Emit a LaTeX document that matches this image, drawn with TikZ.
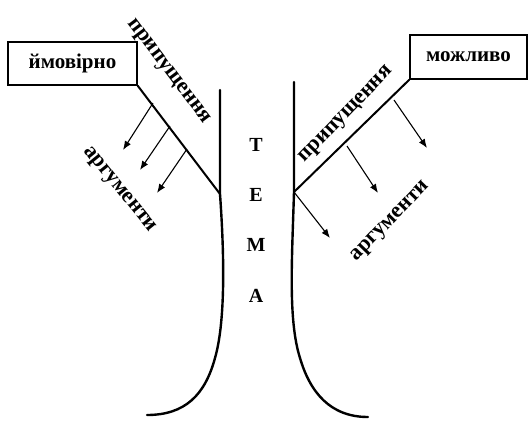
\documentclass[tikz,border=0pt]{standalone}
\usepackage{fontspec}
\setmainfont{Liberation Serif}
\usetikzlibrary{arrows.meta,positioning}

\tikzset{
  stem/.style={line width=2.4pt, line cap=round},
  branch/.style={line width=2pt},
  idea/.style={draw, line width=1.3pt, minimum width=129pt, minimum height=43pt,
    font=\bfseries\fontsize{21}{21}\selectfont},
  twig/.style={line width=1.1pt, -{Latex[length=9pt,width=7pt]}},
  lbl/.style={font=\bfseries\fontsize{22}{22}\selectfont, inner sep=0pt},
  letter/.style={font=\bfseries\fontsize{20}{20}\selectfont}
}

\begin{document}
\begin{tikzpicture}[x=1pt,y=-1pt,node distance=30pt]
\useasboundingbox (0,0) rectangle (528,421);
% boxes
\node[idea] (ymov) at (72.5,63.5) {ймовірно};
\node[idea, minimum width=117pt, minimum height=44pt] (mozh) at (468.5,57) {можливо};
% trunk
\coordinate (ltop) at (220,90);
\coordinate (lj) at (220,194);
\coordinate (lend) at (147,415);
\coordinate (rtop) at (294,82);
\coordinate (rj) at (294,192);
\coordinate (rend) at (368,417);
\draw[stem] (ltop) -- (lj) .. controls (224,250) and (226,320) .. (215,358)
  .. controls (205,395) and (185,415) .. (lend);
\draw[stem] (rtop) -- (rj) .. controls (292,260) and (288,320) .. (300,358)
  .. controls (310,392) and (330,417) .. (rend);
% branches
\draw[branch] (ymov.south east) -- (lj);
\draw[branch] (mozh.south west) -- (rj);
% arrows, left
\coordinate (la1) at (153,103);
\coordinate (la2) at (170,126);
\coordinate (la3) at (187,149);
\coordinate (lb1) at (123,150);
\coordinate (lb2) at (140,170);
\coordinate (lb3) at (157,193);
\draw[twig] (la1) -- (lb1);
\draw[twig] (la2) -- (lb2);
\draw[twig] (la3) -- (lb3);
% arrows, right
\coordinate (ra1) at (394,100);
\coordinate (ra2) at (347,146);
\coordinate (rb1) at (427,148);
\coordinate (rb2) at (378,193);
\coordinate (rb3) at (330,238);
\draw[twig] (ra1) -- (rb1);
\draw[twig] (ra2) -- (rb2);
\draw[twig] (rj) -- (rb3);
% labels
\node[lbl, rotate=-53] (lprp) at (168,72) {припущення};
\node[lbl, rotate=-51] (larg) at (119,190) {аргументи};
\node[lbl, rotate=46] (rprp) at (347,115) {припущення};
\node[lbl, rotate=46] (rarg) at (391,222) {аргументи};
% tema
\node[letter] (t) at (256,145) {Т};
\node[letter, below=of t] (e) {Е};
\node[letter, below=of e] (m) {М};
\node[letter, below=of m] (a) {А};
\end{tikzpicture}
\end{document}
